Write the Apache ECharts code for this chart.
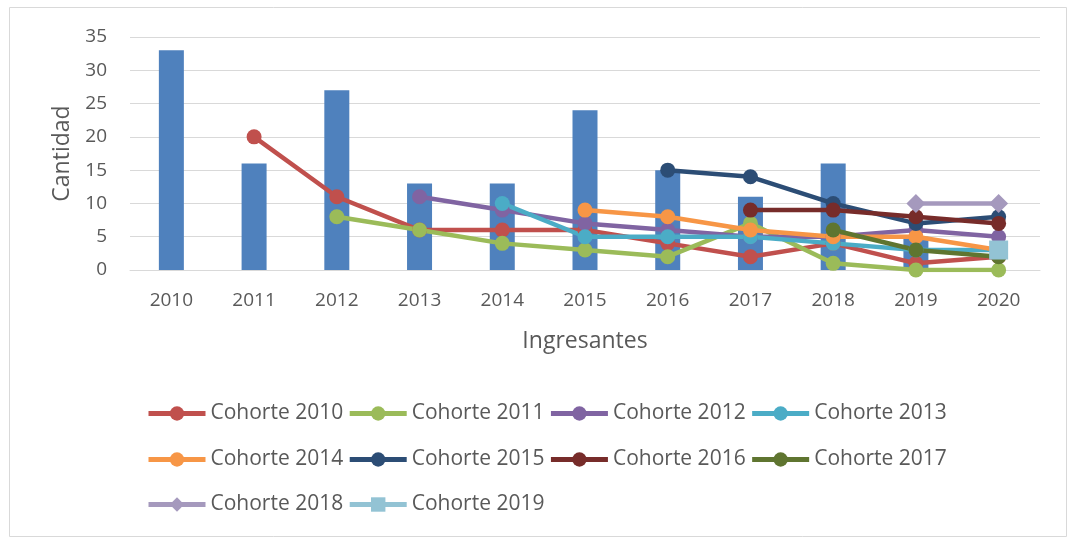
<!DOCTYPE html>
<html>
<head>
<meta charset="UTF-8">
<title>Cohortes</title>
<script src="https://cdn.jsdelivr.net/npm/echarts@6/dist/echarts.min.js"></script>
<style>
  body { margin: 0; background: #fff; }
  #main { width: 1068px; height: 540px; }
</style>
</head>
<body>
<div id="main"></div>
<script>
var years = ['2010','2011','2012','2013','2014','2015','2016','2017','2018','2019','2020'];
var ingresantes = [33, 16, 27, 13, 13, 24, 15, 11, 16, 5, null];

var c2010 = [null, 20, 11, 6, 6, 6, 4, 2, 4, 1, 2];
var c2011 = [null, null, 8, 6, 4, 3, 2, 7, 1, 0, 0];
var c2012 = [null, null, null, 11, 9, 7, 6, 5, 5, 6, 5];
var c2013 = [null, null, null, null, 10, 5, 5, 5, 4, 3, 3];
var c2014 = [null, null, null, null, null, 9, 8, 6, 5, 5, 3];
var c2015 = [null, null, null, null, null, null, 15, 14, 10, 7, 8];
var c2016 = [null, null, null, null, null, null, null, 9, 9, 8, 7];
var c2017 = [null, null, null, null, null, null, null, null, 6, 3, 2];
var c2018 = [null, null, null, null, null, null, null, null, null, 10, 10];
var c2019 = [null, null, null, null, null, null, null, null, null, null, 3];

var cohortNames = ['Cohorte 2010','Cohorte 2011','Cohorte 2012','Cohorte 2013','Cohorte 2014',
                   'Cohorte 2015','Cohorte 2016','Cohorte 2017','Cohorte 2018','Cohorte 2019'];
var cohortData = [c2010, c2011, c2012, c2013, c2014, c2015, c2016, c2017, c2018, c2019];
var colors = ['#C0504D','#9BBB59','#8064A2','#4BACC6','#F79646','#2C4D75','#772C2A','#5F7530','#A599BD','#93C3D4'];

var font = '"Open Sans", sans-serif';
var textColor = '#595959';

var myChart = echarts.init(document.getElementById('main'));

var series = [{
    name: 'Ingresantes',
    type: 'bar',
    barWidth: 25,
    itemStyle: { color: '#4F81BD' },
    data: ingresantes
}];
for (var i = 0; i < cohortNames.length; i++) {
    var sym = 'circle', size = 15;
    if (i == 8) { sym = 'diamond'; size = 19; }
    if (i == 9) { sym = 'rect'; size = 19; }
    series.push({
        name: cohortNames[i],
        type: 'line',
        symbol: sym,
        symbolSize: size,
        showAllSymbol: true,
        lineStyle: { width: 4.5, color: colors[i] },
        itemStyle: { color: colors[i] },
        data: cohortData[i]
    });
}

function legendRow(names, top) {
    return {
        data: names,
        left: 146,
        top: top,
        padding: 0,
        itemWidth: 57,
        itemHeight: 18,
        itemGap: 4,
        selectedMode: false,
        lineStyle: { width: 5 },
        textStyle: { color: textColor, fontSize: 21, fontFamily: font }
    };
}

var option = {
    animation: false,
    grid: { left: 130, right: 28, top: 37, bottom: 270 },
    graphic: [{
        type: 'rect',
        shape: { x: 9.5, y: 7.5, width: 1057, height: 529 },
        style: { fill: 'none', stroke: '#d9d9d9', lineWidth: 1 }
    }],
    legend: [
        legendRow(cohortNames.slice(0, 4), 403),
        legendRow(cohortNames.slice(4, 8), 449),
        legendRow(cohortNames.slice(8, 10), 494)
    ],
    xAxis: {
        type: 'category',
        data: years,
        name: 'Ingresantes',
        nameLocation: 'middle',
        nameGap: 60,
        nameTextStyle: { color: textColor, fontSize: 23, fontFamily: font },
        axisTick: { show: false },
        axisLine: { lineStyle: { color: '#d9d9d9', width: 1 } },
        axisLabel: { color: textColor, fontSize: 19, fontFamily: font, margin: 21 }
    },
    yAxis: {
        type: 'value',
        min: 0,
        max: 35,
        interval: 5,
        name: 'Cantidad',
        nameLocation: 'middle',
        nameGap: 55,
        nameTextStyle: { color: textColor, fontSize: 23, fontFamily: font },
        axisLine: { show: false },
        axisTick: { show: false },
        axisLabel: { color: textColor, fontSize: 19, fontFamily: font, margin: 23 },
        splitLine: { lineStyle: { color: '#d9d9d9', width: 1 } }
    },
    series: series
};
myChart.setOption(option);
</script>
</body>
</html>
